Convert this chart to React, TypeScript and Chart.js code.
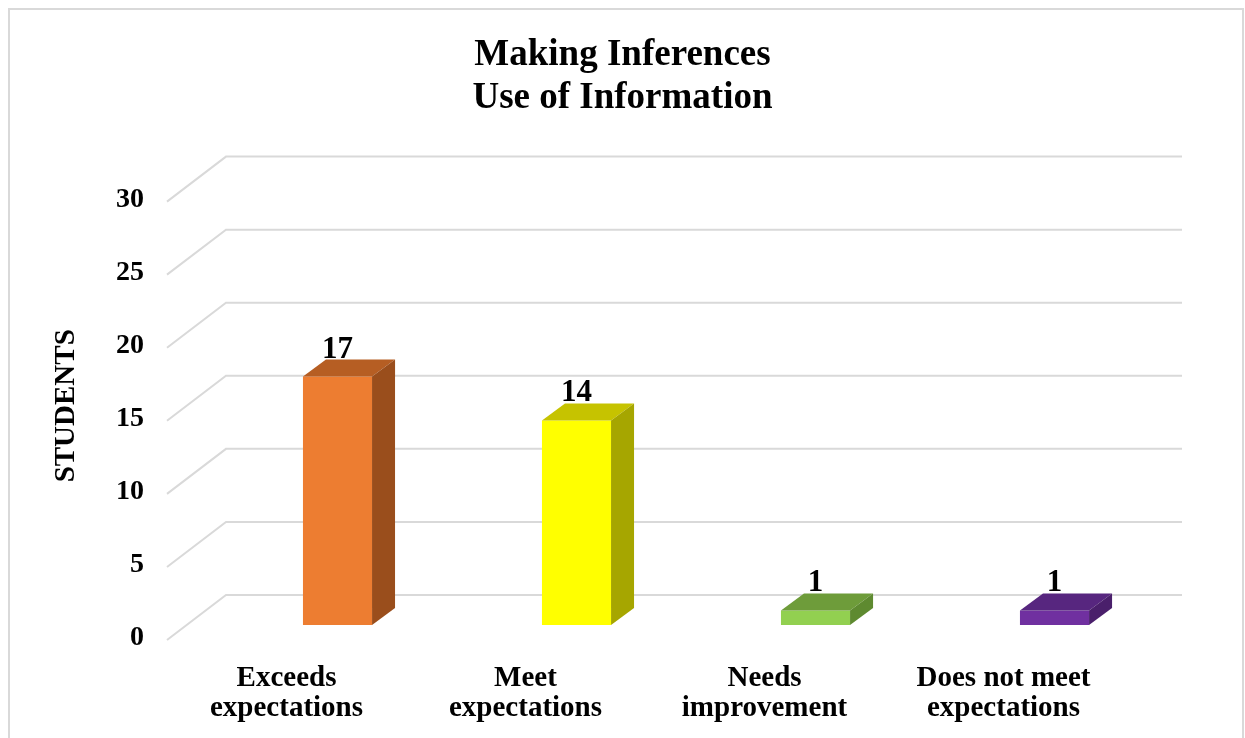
import { useEffect, useRef } from 'react';
import { Chart, registerables } from 'chart.js';

Chart.register(...registerables);

// Chart content
const titleLines = ['Making Inferences', 'Use of Information'];
const categories = [
  ['Exceeds', 'expectations'],
  ['Meet', 'expectations'],
  ['Needs', 'improvement'],
  ['Does not meet', 'expectations'],
];
const studentCounts = [17, 14, 1, 1];
const yAxisTitle = 'STUDENTS';
const yMin = 0;
const yMax = 30;
const yStep = 5;

// Face colours for each bar: front, top and right side
const frontColors = ['#ED7D31', '#FFFF00', '#92D050', '#7030A0'];
const topColors = ['#B65E23', '#C6C300', '#6E9C3A', '#57267F'];
const sideColors = ['#9A4E1C', '#A6A600', '#5E8A30', '#4A1F6B'];

const FONT = "'Liberation Serif', 'Times New Roman', serif";

// Oblique projection offsets (pixels)
const BAR_DX = 23; // bar depth, horizontal
const BAR_DY = 17; // bar depth, vertical
const WALL_DX = 8; // back wall relative to bar plane
const WALL_DY = 30;
const SIDE_DX = 59; // side wall diagonal
const SIDE_DY = 45;

const wallPlugin = {
  id: 'wall3d',
  beforeDatasetsDraw(chart: any) {
    const { ctx, chartArea } = chart;
    const yScale = chart.scales.y;
    ctx.save();
    ctx.strokeStyle = '#D9D9D9';
    ctx.lineWidth = 2;
    for (const t of yScale.ticks) {
      const yb = yScale.getPixelForValue(t.value) - WALL_DY;
      const xl = chartArea.left + WALL_DX;
      const xr = chartArea.right + WALL_DX;
      ctx.beginPath();
      ctx.moveTo(xl - SIDE_DX, yb + SIDE_DY);
      ctx.lineTo(xl, yb);
      ctx.lineTo(xr, yb);
      ctx.stroke();
    }
    ctx.restore();
  },
};

const barFacesPlugin = {
  id: 'barFaces3d',
  afterDatasetsDraw(chart: any) {
    const { ctx } = chart;
    const meta = chart.getDatasetMeta(0);
    const values = chart.data.datasets[0].data as number[];
    ctx.save();
    meta.data.forEach((el: any, i: number) => {
      const { x, y, base, width } = el.getProps(['x', 'y', 'base', 'width'], true);
      const l = x - width / 2;
      const r = x + width / 2;
      // top face
      ctx.fillStyle = topColors[i];
      ctx.beginPath();
      ctx.moveTo(l, y);
      ctx.lineTo(l + BAR_DX, y - BAR_DY);
      ctx.lineTo(r + BAR_DX, y - BAR_DY);
      ctx.lineTo(r, y);
      ctx.closePath();
      ctx.fill();
      // right side face
      ctx.fillStyle = sideColors[i];
      ctx.beginPath();
      ctx.moveTo(r, y);
      ctx.lineTo(r + BAR_DX, y - BAR_DY);
      ctx.lineTo(r + BAR_DX, base - BAR_DY);
      ctx.lineTo(r, base);
      ctx.closePath();
      ctx.fill();
      // value label
      ctx.fillStyle = '#000';
      ctx.font = `bold 31px ${FONT}`;
      ctx.textAlign = 'center';
      ctx.textBaseline = 'alphabetic';
      ctx.fillText(String(values[i]), x, y - BAR_DY - 2);
    });
    ctx.restore();
  },
};

const framePlugin = {
  id: 'frame',
  afterDraw(chart: any) {
    const { ctx, width, height } = chart;
    ctx.save();
    ctx.strokeStyle = '#D9D9D9';
    ctx.lineWidth = 2;
    ctx.strokeRect(9, 9, width - 11, height + 20);
    ctx.restore();
  },
};

export default function App() {
  const canvasRef = useRef<HTMLCanvasElement>(null);

  useEffect(() => {
    if (!canvasRef.current) return;
    Chart.defaults.font.family = FONT;
    const chart = new Chart(canvasRef.current, {
      type: 'bar',
      data: {
        labels: categories,
        datasets: [
          {
            data: studentCounts,
            backgroundColor: frontColors,
            borderWidth: 0,
            barPercentage: 0.289,
            categoryPercentage: 1,
            yAxisID: 'y',
          },
        ],
      },
      options: {
        animation: false,
        responsive: true,
        maintainAspectRatio: false,
        layout: { padding: 0 },
        plugins: {
          legend: { display: false },
          tooltip: { enabled: false },
          title: {
            display: true,
            text: titleLines,
            color: '#000',
            font: { size: 37, weight: 'bold', family: FONT, lineHeight: 1.17 },
            padding: { top: 34, bottom: 66 },
          },
        },
        scales: {
          x: {
            grid: { display: false },
            border: { display: false },
            ticks: {
              color: '#000',
              font: { size: 29, weight: 'bold', family: FONT, lineHeight: 1.02 },
              padding: 31,
              labelOffset: -51,
              autoSkip: false,
              maxRotation: 0,
              minRotation: 0,
            },
            afterFit: (s: any) => {
              s.height = 113;
            },
          },
          y: {
            min: yMin,
            max: yMax,
            grid: { display: false, drawTicks: false },
            border: { display: false },
            ticks: {
              stepSize: yStep,
              color: '#000',
              font: { size: 28, weight: 'bold', family: FONT },
              padding: 74,
              labelOffset: 13,
            },
            title: {
              display: true,
              text: yAxisTitle,
              color: '#000',
              font: { size: 29, weight: 'bold', family: FONT },
              padding: { top: 49, bottom: 0 },
            },
            afterFit: (s: any) => {
              s.width = 218;
            },
          },
          // empty right-hand margin of the plot
          yRight: {
            position: 'right',
            min: yMin,
            max: yMax,
            grid: { display: false, drawTicks: false },
            border: { display: false },
            ticks: { display: false },
            afterFit: (s: any) => {
              s.width = 71;
            },
          },
        },
      } as any,
      plugins: [wallPlugin, barFacesPlugin, framePlugin],
    });
    return () => chart.destroy();
  }, []);

  return (
    <div style={{ position: 'fixed', left: 0, top: 0, width: 1245, height: 738, background: '#fff' }}>
      <canvas ref={canvasRef} />
    </div>
  );
}
